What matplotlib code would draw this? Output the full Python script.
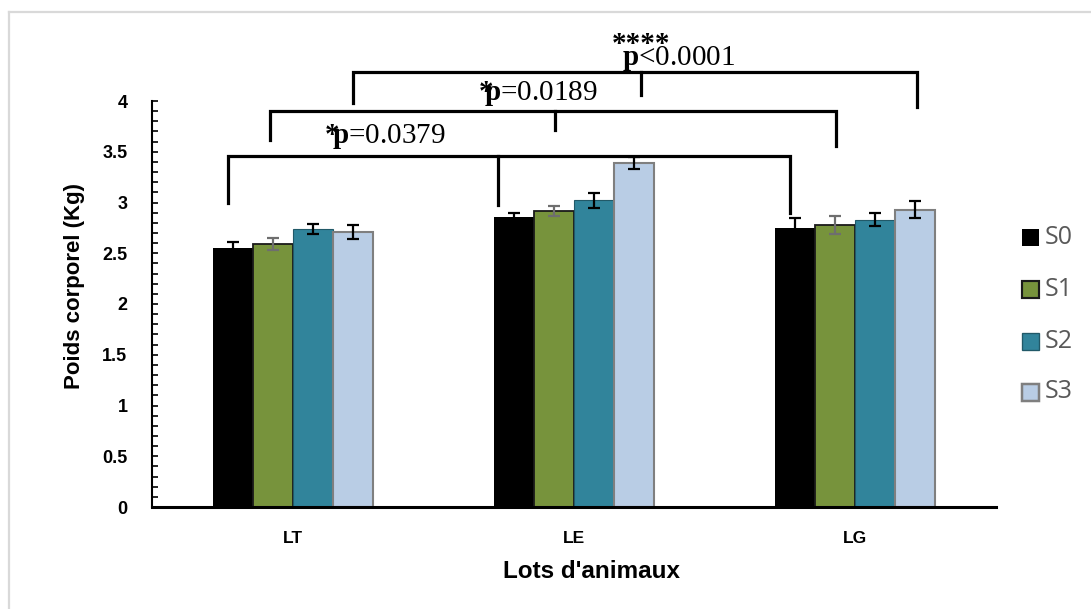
import matplotlib
matplotlib.use("Agg")
import matplotlib.pyplot as plt
from matplotlib.patches import Rectangle
from matplotlib.lines import Line2D
from matplotlib.ticker import MultipleLocator
import numpy as np

plt.rcParams['mathtext.fontset'] = 'custom'
plt.rcParams['mathtext.rm'] = 'Liberation Serif'
plt.rcParams['mathtext.bf'] = 'Liberation Serif:bold'

# ---------------- data ----------------
categories = ["LT", "LE", "LG"]
series = ["S0", "S1", "S2", "S3"]
S0 = [2.55, 2.86, 2.75]
S1 = [2.59, 2.92, 2.78]
S2 = [2.74, 3.02, 2.83]
S3 = [2.71, 3.39, 2.93]
S0_err = [0.06, 0.04, 0.10]
S1_err = [0.06, 0.05, 0.09]
S2_err = [0.05, 0.07, 0.065]
S3_err = [0.07, 0.06, 0.085]
yticks = [0, 0.5, 1, 1.5, 2, 2.5, 3, 3.5, 4]

# significance brackets: (x_left, x_mid, x_right) in category units, top y, leg bottoms
br_x = [(-0.231, 0.730, 1.769), (-0.081, 0.933, 1.932), (0.213, 1.238, 2.220)]
br_top = [3.458, 3.90, 4.286]
br_bottom = [(2.995, 2.975, 2.897), (3.616, 3.714, 3.557), (3.980, 4.059, 3.94)]
p_texts = [r"$\mathbf{p}$=0.0379", r"$\mathbf{p}$=0.0189", r"$\mathbf{p}$<0.0001"]
star_texts = ["*", "*", "****"]
p_pos = [(0.139, 3.586), (0.680, 4.010), (1.171, 4.355)]
star_pos = [(0.114, 3.586), (0.663, 4.010), (1.135, 4.487)]

ylabel = "Poids corporel (Kg)"
xlabel = "Lots d'animaux"

# ---------------- style ----------------
values = [S0, S1, S2, S3]
errors = [S0_err, S1_err, S2_err, S3_err]
colors = ["#000000", "#77933C", "#31849B", "#B9CDE5"]
edges = ["#000000", "#1a1a1a", "#215968", "#7f7f7f"]
edge_lw = [0.0, 1.3, 0.8, 1.5]
ecolors = ["#000000", "#6e6e6e", "#000000", "#000000"]
SANS = ["Liberation Sans", "DejaVu Sans"]

W, H = 1091, 609
fig = plt.figure(figsize=(W / 100, H / 100), dpi=100)
ax = fig.add_axes([152.4 / W, 1 - 507 / H, 843.2 / W, 406 / H])

x = np.arange(len(categories))
bw = 0.1423
for i, (vals, errs) in enumerate(zip(values, errors)):
    ax.bar(x + (i - 1.5) * bw, vals, bw, color=colors[i], edgecolor=edges[i],
           linewidth=edge_lw[i], yerr=errs, ecolor=ecolors[i], capsize=4.3,
           error_kw=dict(elinewidth=1.6, capthick=1.6), zorder=2)

ax.set_xlim(-0.5, 2.5)
ax.set_ylim(0, 4)
ax.set_xticks(x)
ax.set_xticklabels(categories, fontfamily=SANS, fontweight="bold", fontsize=12.5)
ax.set_yticks(yticks)
ax.yaxis.set_minor_locator(MultipleLocator(0.1))
ax.set_yticklabels([f"{v:g}" for v in yticks],
                   fontfamily=SANS, fontweight="bold", fontsize=13)
ax.tick_params(axis="x", length=0, pad=17)
ax.tick_params(axis="y", which="both", direction="in", length=4.3, width=1.2, pad=18)
for s in ["top", "right"]:
    ax.spines[s].set_visible(False)
ax.spines["left"].set_linewidth(1.5)
ax.spines["bottom"].set_linewidth(2.2)

ax.set_xlabel(xlabel, fontfamily=SANS, fontweight="bold", fontsize=17.5)
ax.xaxis.set_label_coords(0.521, -0.160)
ax.xaxis.label.set_va("center")
ax.set_ylabel(ylabel, fontfamily=SANS, fontweight="bold", fontsize=16)
ax.yaxis.set_label_coords(-0.0918, 0.544)
ax.yaxis.label.set_va("center")

# brackets
for (xl, xm, xr), yt, (bl, bm, br) in zip(br_x, br_top, br_bottom):
    ax.plot([xl, xl, xr, xr], [bl, yt, yt, br], color="black", lw=2.3,
            clip_on=False, solid_joinstyle="miter", zorder=3)
    ax.plot([xm, xm], [yt, bm], color="black", lw=2.3, clip_on=False, zorder=3)

for t, (px, py) in zip(p_texts, p_pos):
    ax.text(px, py, t, fontfamily="Liberation Serif", fontsize=21, ha="left",
            va="baseline", clip_on=False, zorder=4)
for t, (px, py) in zip(star_texts, star_pos):
    ax.text(px, py, t, fontfamily="Liberation Serif", fontweight="bold", fontsize=21,
            ha="left", va="baseline", clip_on=False, zorder=4)

# legend (manual)
leg_y = [237, 289, 341, 392]
for i, name in enumerate(series):
    cy = leg_y[i]
    fig.add_artist(Rectangle(((1022) / W, 1 - (cy + 8.5) / H), 17 / W, 17 / H,
                             facecolor=colors[i], edgecolor=edges[i],
                             linewidth=edge_lw[i] * 1.2,
                             transform=fig.transFigure))
    fig.text(1045 / W, 1 - cy / H, name, fontfamily=["Open Sans", "DejaVu Sans"],
             fontsize=18, color="#595959", ha="left", va="center")

# chart border (top-left visible)
fig.add_artist(Line2D([8.5 / W, 8.5 / W], [0, 1 - 11.5 / H], color="#d9d9d9",
                      lw=1.6, transform=fig.transFigure))
fig.add_artist(Line2D([8.5 / W, 1], [1 - 11.5 / H, 1 - 11.5 / H], color="#d9d9d9",
                      lw=1.6, transform=fig.transFigure))

fig.savefig("out.png", dpi=100)
